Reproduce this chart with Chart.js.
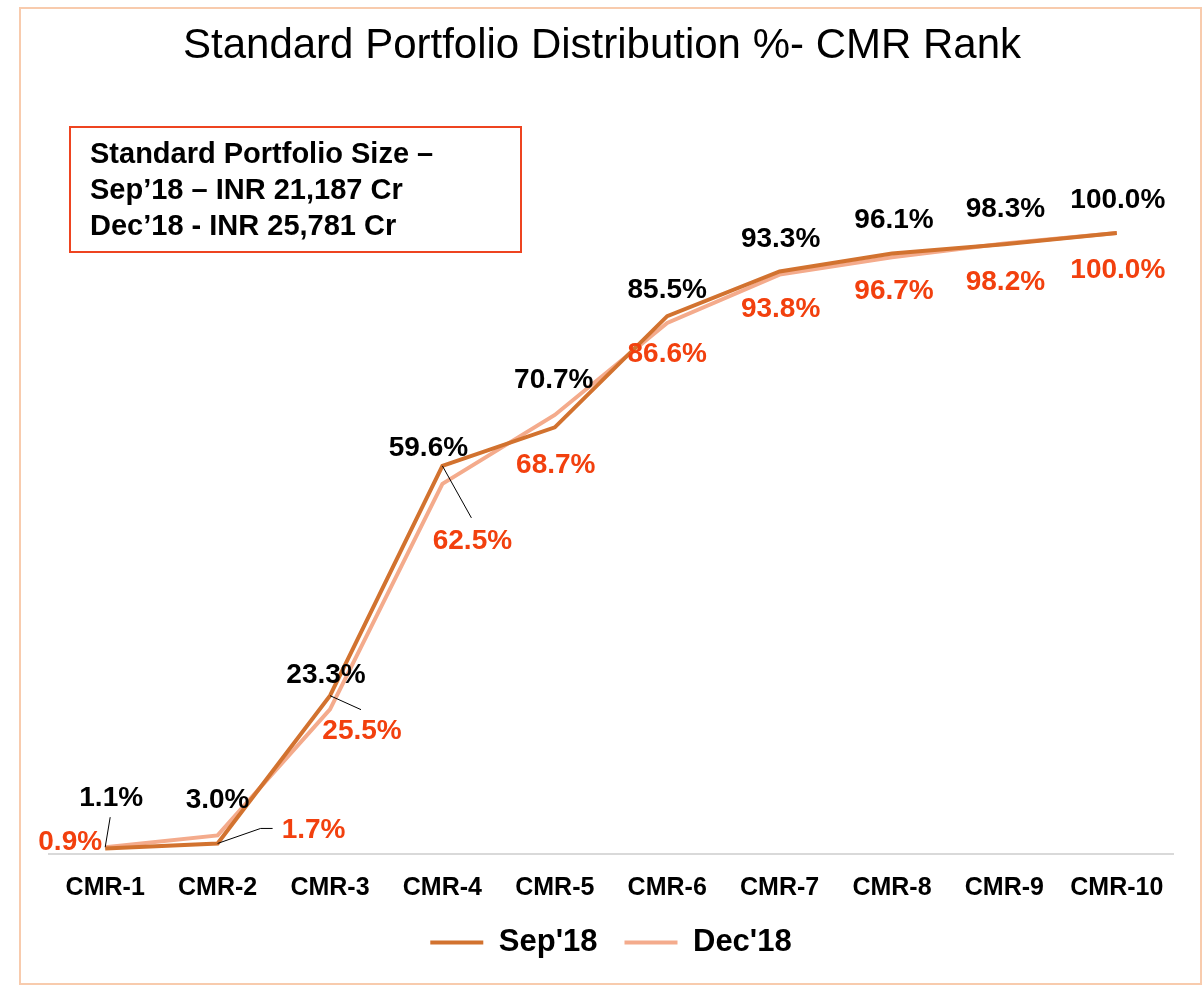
<!DOCTYPE html>
<html>
<head>
<meta charset="utf-8">
<script src="https://cdn.jsdelivr.net/npm/chart.js@4.4.1/dist/chart.umd.min.js"></script>
<style>
  html, body { margin: 0; padding: 0; background: #fff; }
  #wrap { width: 1204px; height: 987px; position: relative; }
</style>
</head>
<body>
<div id="wrap"><canvas id="chart"></canvas></div>
<script>
const categories = ['CMR-1', 'CMR-2', 'CMR-3', 'CMR-4', 'CMR-5', 'CMR-6', 'CMR-7', 'CMR-8', 'CMR-9', 'CMR-10'];
const sepValues = [0.9, 1.7, 25.5, 62.5, 68.7, 86.6, 93.8, 96.7, 98.2, 100.0];
const decValues = [1.1, 3.0, 23.3, 59.6, 70.7, 85.5, 93.3, 96.1, 98.3, 100.0];
const boxLines = ['Standard Portfolio Size \u2013', 'Sep\u201918 \u2013 INR 21,187 Cr', 'Dec\u201918 - INR 25,781 Cr'];

// label offsets from the point, in px
const sepLabelOffsets = [[-35, -6], [96, -13], [32, 36], [30, 75], [1, 38], [0, 38], [1, 38], [2, 38], [1, 38], [1, 37]];
const decLabelOffsets = [[6, -49], [0, -35], [-4, -34], [-14, -36], [-1, -35], [0, -33], [1, -35], [2, -37], [1, -34], [1, -33]];
const leaders = [
  { ds: 1, i: 0, pts: [[5, -30]] },
  { ds: 0, i: 1, pts: [[43, -15], [55, -15]] },
  { ds: 0, i: 2, pts: [[31, 14]] },
  { ds: 0, i: 3, pts: [[29, 52]] }
];

const SEP_COLOR = '#D2722F';
const DEC_COLOR = '#F4AB8C';
const LABEL_RED = '#F2400E';
const FONT = '"Liberation Sans", Arial, sans-serif';

const decorPlugin = {
  id: 'decor',
  afterDatasetsDraw(chart) {
    const ctx = chart.ctx;
    ctx.save();
    // leader lines
    ctx.strokeStyle = '#000';
    ctx.lineWidth = 1;
    leaders.forEach(l => {
      const p = chart.getDatasetMeta(l.ds).data[l.i];
      ctx.beginPath();
      ctx.moveTo(p.x, p.y);
      l.pts.forEach(o => ctx.lineTo(p.x + o[0], p.y + o[1]));
      ctx.stroke();
    });
    // data labels
    ctx.font = 'bold 28px ' + FONT;
    ctx.textAlign = 'center';
    ctx.textBaseline = 'middle';
    const sets = [
      { ds: 0, vals: sepValues, offs: sepLabelOffsets, color: LABEL_RED },
      { ds: 1, vals: decValues, offs: decLabelOffsets, color: '#000' }
    ];
    sets.forEach(s => {
      const meta = chart.getDatasetMeta(s.ds);
      ctx.fillStyle = s.color;
      meta.data.forEach((p, i) => {
        ctx.fillText(s.vals[i].toFixed(1) + '%', p.x + s.offs[i][0], p.y + s.offs[i][1]);
      });
    });
    ctx.restore();
  },
  afterDraw(chart) {
    const ctx = chart.ctx;
    ctx.save();
    // outer frame
    ctx.strokeStyle = '#F8CBAD';
    ctx.lineWidth = 2;
    ctx.strokeRect(20, 8, 1181, 976);
    // text box
    ctx.strokeStyle = '#EE4420';
    ctx.lineWidth = 2;
    ctx.strokeRect(70, 127, 451, 125);
    ctx.fillStyle = '#000';
    ctx.font = 'bold 29px ' + FONT;
    ctx.textAlign = 'left';
    ctx.textBaseline = 'alphabetic';
    boxLines.forEach((t, k) => ctx.fillText(t, 90, 163 + k * 36));
    ctx.restore();
  }
};

new Chart(document.getElementById('chart'), {
  type: 'line',
  data: {
    labels: categories,
    datasets: [
      { label: "Sep'18", data: sepValues, borderColor: SEP_COLOR, backgroundColor: SEP_COLOR, borderWidth: 4, pointRadius: 0, tension: 0 },
      { label: "Dec'18", data: decValues, borderColor: DEC_COLOR, backgroundColor: DEC_COLOR, borderWidth: 4, pointRadius: 0, tension: 0 }
    ]
  },
  options: {
    responsive: true,
    maintainAspectRatio: false,
    animation: false,
    layout: { padding: { left: 31, right: 31, top: 0, bottom: 19 } },
    scales: {
      x: {
        offset: true,
        grid: { display: false, tickLength: 22 },
        border: { display: true, color: '#D9D9D9', width: 2 },
        ticks: {
          color: '#000',
          padding: -3,
          maxRotation: 0,
          autoSkip: false,
          font: { family: FONT, size: 25, weight: 'bold' }
        }
      },
      y: {
        min: 0,
        max: 121.35,
        grid: { display: false },
        border: { display: false },
        ticks: { display: false },
        afterFit: (scale) => { scale.width = 18; }
      }
    },
    plugins: {
      title: {
        display: true,
        text: 'Standard Portfolio Distribution %- CMR Rank',
        color: '#000',
        padding: { top: 21, bottom: 29 },
        font: { family: FONT, size: 42, weight: 'normal' }
      },
      legend: {
        position: 'bottom',
        fullSize: false,
        labels: {
          color: '#000',
          usePointStyle: true,
          pointStyle: 'line',
          pointStyleWidth: 53,
          padding: 27,
          font: { family: FONT, size: 31, weight: 'bold' }
        }
      },
      tooltip: { enabled: false }
    }
  },
  plugins: [decorPlugin]
});
</script>
</body>
</html>
